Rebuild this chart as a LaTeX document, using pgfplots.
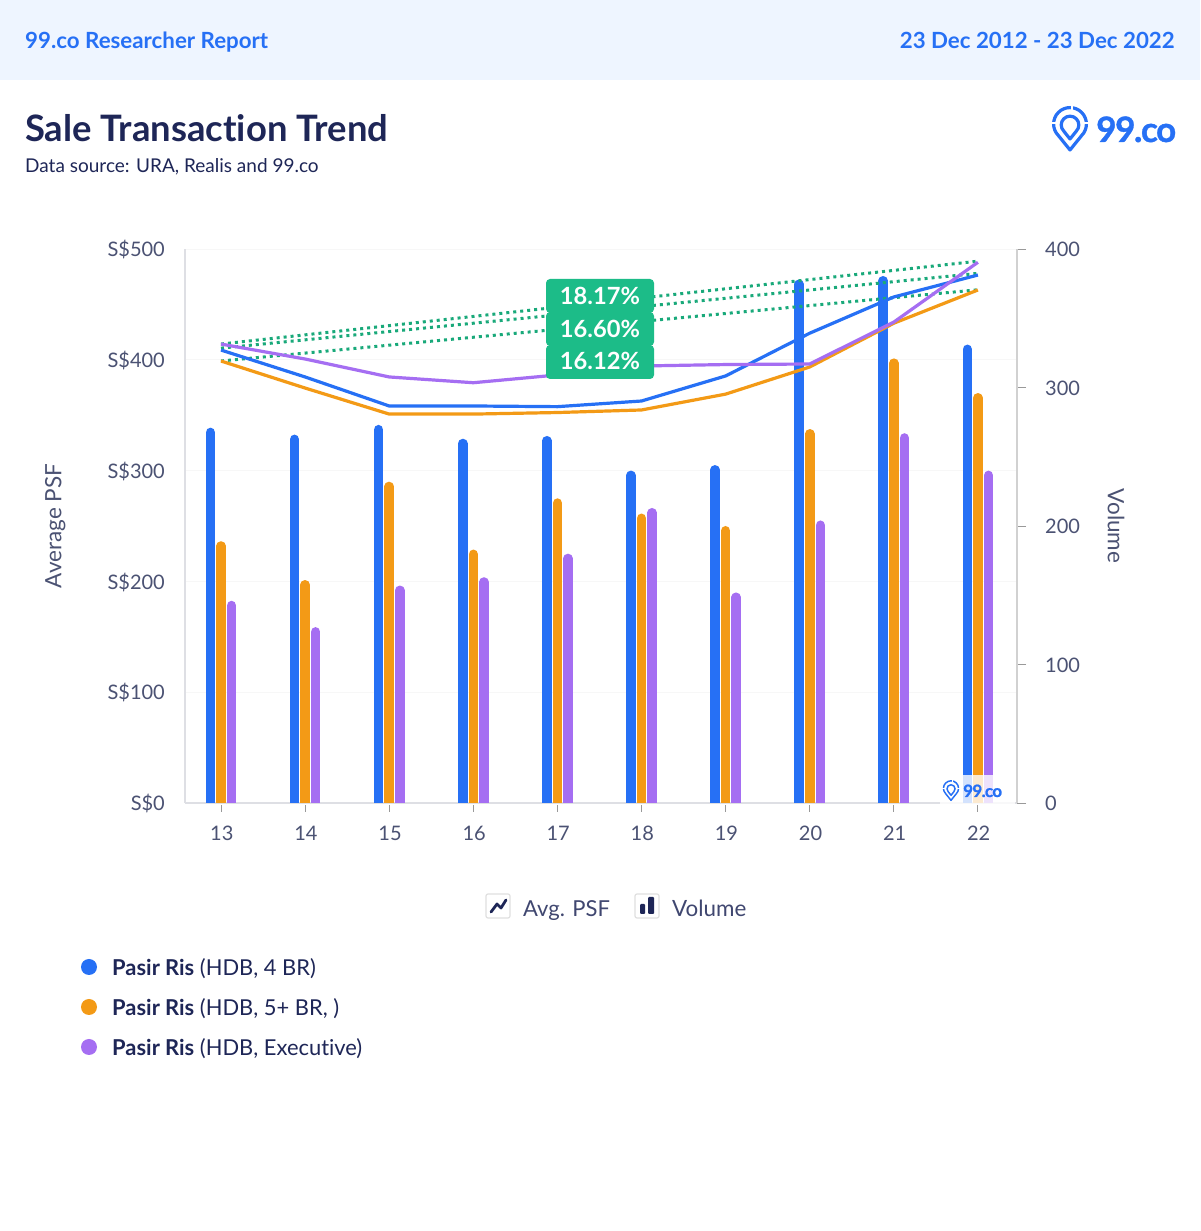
\documentclass[border=0pt]{standalone}
\usepackage{pgfplots}
\pgfplotsset{compat=1.18}
\usepackage{fontspec}
\setmainfont{Lato}[Ligatures=NoCommon]
\definecolor{cblue}{HTML}{2670F5}
\definecolor{corange}{HTML}{F39A16}
\definecolor{cpurple}{HTML}{A56EF2}
\definecolor{cgreen}{HTML}{1CBC88}
\definecolor{cnavy}{HTML}{1E2657}
\definecolor{ctick}{HTML}{4B5273}
\definecolor{cheader}{HTML}{EEF5FF}
\definecolor{caxis}{HTML}{DEDFE4}
\newcommand{\fs}[1]{\fontsize{#1}{#1}\selectfont}
% logo pin, origin at the top of the ring, y pointing down
\newcommand{\pin}[3]{%
 \begin{scope}[shift={(#1,#2)},scale=#3,line cap=butt,line join=round]
  \draw[cblue,line width=3.2*#3] (-11.6,27.6) arc[start angle=135,end angle=405,radius=16.4] -- (0,42) -- cycle;
  \draw[cblue,line width=3.2*#3] (0,31) -- (-6.2,23.2) arc[start angle=135,end angle=405,radius=8.8] -- cycle;
  \draw[white,line width=1.6*#3] (2,-3) -- (2,3.5);
  \draw[white,line width=1.6*#3] (-19,15) -- (-13.5,15);
  \draw[white,line width=1.6*#3] (19,15) -- (13.5,15);
 \end{scope}}
\pgfplotsset{base/.style={
  scale only axis, width=832pt, height=554pt,
  xmin=-0.428, xmax=9.465,
  at={(185pt,428pt)}, anchor=south west,
  clip=true,
  /pgf/number format/assume math mode=true}}
\begin{document}
\begin{tikzpicture}
\useasboundingbox (0,0) rectangle (1200pt,1231pt);
\fill[white] (0,0) rectangle (1200pt,1231pt);
% grid and left axis
\begin{axis}[base, ymin=0, ymax=500,
  axis y line*=left, axis x line*=bottom,
  axis line style={draw=caxis,line width=1.2pt,-},
  ytick={0,100,200,300,400,500},
  yticklabels={S\$0,S\$100,S\$200,S\$300,S\$400,S\$500},
  ymajorgrids, grid style={draw=black!3,line width=0.8pt},
  xtick={0,...,9},
  xticklabels={13,14,15,16,17,18,19,20,21,22},
  major tick length=0pt,
  xticklabel style={font=\fs{20},text=ctick,anchor=center,yshift=-30pt,xshift=0.8pt,inner sep=0pt},
  yticklabel style={font=\fs{20},text=ctick,anchor=east,xshift=-20pt,yshift=-0.8pt,inner sep=0pt},
  ylabel={Average PSF},
  ylabel style={at={(axis description cs:-0.156,0.5)},anchor=center,font=\fs{22.5},text=ctick},
]
\end{axis}
% bars and right axis
\begin{axis}[base, ymin=0, ymax=400,
  axis y line*=right, axis x line=none,
  y axis line style={draw=black!18,line width=1.2pt,-},
  ytick={0,100,200,300,400},
  xtick=\empty,
  tick style={draw=black!40,line width=0.8pt},
  major tick length=9pt,
  tick align=outside,
  yticklabel style={font=\fs{20},text=ctick,anchor=west,xshift=19pt,yshift=-0.8pt,inner sep=0pt},
  ylabel={Volume},
  ylabel style={at={(axis description cs:1.119,0.5)},anchor=center,rotate=180,font=\fs{22.5},text=ctick},
]
\addplot[ycomb,draw=cblue,line width=9.6pt,line cap=round,xshift=-10.6pt,yshift=-4.8pt,no marks] coordinates {
 (0,271)(1,266)(2,273)(3,263)(4,265)(5,240)(6,244)(7,378)(8,380.5)(9,331)};
\addplot[ycomb,draw=corange,line width=9.6pt,line cap=round,yshift=-4.8pt,no marks] coordinates {
 (0,189)(1,161)(2,232)(3,183)(4,220)(5,209)(6,200)(7,270)(8,321)(9,296)};
\addplot[ycomb,draw=cpurple,line width=9.6pt,line cap=round,xshift=10.6pt,yshift=-4.8pt,no marks] coordinates {
 (0,146)(1,127)(2,157)(3,163)(4,180)(5,213)(6,152)(7,204)(8,267)(9,240)};
\end{axis}
% lines
\begin{axis}[base, ymin=0, ymax=500, hide axis]
\addplot[draw=cgreen!90!black,line width=3pt,dash pattern=on 3pt off 4pt,no marks] coordinates {(0,414.2)(9,489)};
\addplot[draw=cgreen!90!black,line width=3pt,dash pattern=on 3pt off 4pt,no marks] coordinates {(0,410.5)(9,478)};
\addplot[draw=cgreen!90!black,line width=3pt,dash pattern=on 3pt off 4pt,no marks] coordinates {(0,398.9)(9,463.2)};
\addplot[draw=corange,line width=3.2pt,line join=round,no marks] coordinates {
 (0,398.9)(1,374.5)(2,351)(3,351)(4,352.4)(5,354.7)(6,369)(7,393.5)(8,433)(9,463)};
\addplot[draw=cblue,line width=3.2pt,line join=round,no marks] coordinates {
 (0,408.8)(1,384.5)(2,358.3)(3,358.3)(4,357.7)(5,362.8)(6,385.4)(7,424)(8,456.7)(9,476.5)};
\addplot[draw=cpurple,line width=3.2pt,line join=round,no marks] coordinates {
 (0,414.2)(1,400.7)(2,384.5)(3,379.3)(4,386.3)(5,394.4)(6,395.7)(7,396.2)(8,434)(9,488)};
\end{axis}
% page furniture, in pixel coordinates from the top left
\begin{scope}[x=1pt,y=-1pt,shift={(0,1231pt)}]
 \fill[cheader] (0,0) rectangle (1200,80);
 \node[anchor=base west,inner sep=0,text=cblue,font=\fs{22.3}\bfseries] at (25,48.5) {99.co Researcher Report};
 \node[anchor=base east,inner sep=0,text=cblue,font=\fs{22.3}\bfseries] at (1175,48.5) {23 Dec 2012 - 23 Dec 2022};
 \node[anchor=base west,inner sep=0,text=cnavy,font=\fs{36.4}\bfseries] at (25,142) {Sale Transaction Trend};
 \node[anchor=base west,inner sep=0,text=cnavy,font=\fs{19}] at (25,173) {Data source: URA, Realis and 99.co};
 \pin{1070}{108}{1}
 \node[anchor=base west,inner sep=0,text=cblue,font=\fs{35}\bfseries\addfontfeatures{LetterSpace=-4,FakeBold=1}] at (1096,142) {99.co};
 % ticks under the categories
 \foreach \k in {0,...,9} \draw[black!40,line width=0.9pt] ({221.7+84*\k},805) -- ++(0,7);
 % percentage tags
 \fill[cgreen,rounded corners=4pt] (546,279) rectangle (654,313);
 \fill[cgreen,rounded corners=4pt] (546,312) rectangle (654,346);
 \fill[cgreen,rounded corners=4pt] (546,345) rectangle (654,379);
 \node[anchor=base,inner sep=0,text=white,font=\fs{23.7}\bfseries] at (600,305) {18.17\%};
 \node[anchor=base,inner sep=0,text=white,font=\fs{23.7}\bfseries] at (600,338) {16.60\%};
 \node[anchor=base,inner sep=0,text=white,font=\fs{23.7}\bfseries] at (600,370) {16.12\%};
 % watermark
 \fill[white,opacity=.8] (940,775) rectangle (1015,804);
 \pin{951}{781}{.46}
 \node[anchor=base west,inner sep=0,text=cblue,font=\fs{17}\bfseries\addfontfeatures{LetterSpace=-4,FakeBold=1}] at (963,797) {99.co};
 % chart-type switch
 \draw[black!12,fill=white,line width=1.2pt,rounded corners=2pt] (486,894) rectangle (510,918);
 \draw[cnavy,line width=2.8pt,line join=round,line cap=round] (491,912) -- (497,904) -- (501,908) -- (506,900);
 \node[anchor=base west,inner sep=0,text=cnavy!85!white,font=\fs{22}] at (523,917) {Avg. PSF};
 \draw[black!12,fill=white,line width=1.2pt,rounded corners=2pt] (635,894) rectangle (659,918);
 \fill[cnavy,rounded corners=1pt] (640,914) rectangle (645,904);
 \fill[cnavy,rounded corners=1pt] (648,914) rectangle (654,897);
 \node[anchor=base west,inner sep=0,text=cnavy!85!white,font=\fs{22.4}] at (672,917) {Volume};
 % series key
 \fill[cblue] (89,967) circle (8);
 \fill[corange] (89,1007) circle (8);
 \fill[cpurple] (89,1047) circle (8);
 \node[anchor=base west,inner sep=0,text=cnavy,font=\fs{21.9}] at (112,976) {\textbf{Pasir Ris} (HDB, 4 BR)};
 \node[anchor=base west,inner sep=0,text=cnavy,font=\fs{21.9}] at (112,1016) {\textbf{Pasir Ris} (HDB, 5+ BR, )};
 \node[anchor=base west,inner sep=0,text=cnavy,font=\fs{21.9}] at (112,1056) {\textbf{Pasir Ris} (HDB, Executive)};
\end{scope}
\end{tikzpicture}
\end{document}
